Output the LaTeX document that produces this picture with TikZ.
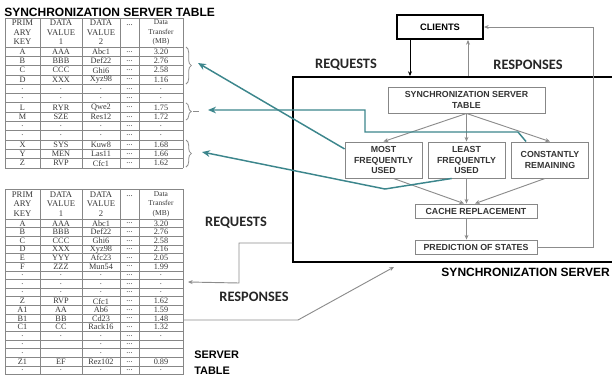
\documentclass[tikz,border=0pt]{standalone}
\usepackage{fontspec}
\setmainfont{Liberation Serif}
\setsansfont{Liberation Sans}
\newfontfamily\carlito{Carlito}
\usepackage{xcolor}
\usetikzlibrary{arrows.meta,calc,decorations.pathreplacing}

\definecolor{tealline}{RGB}{60,134,140}
\definecolor{gridline}{RGB}{135,135,135}
\definecolor{celltext}{RGB}{55,55,55}
\definecolor{flowline}{RGB}{140,140,140}

\tikzset{
  tablegrid/.style={draw=gridline, line width=0.6pt},
  cell/.style={inner sep=0pt, text=celltext, font=\fontsize{6.2}{6.2}\selectfont},
  headcell/.style={inner sep=0pt, text=celltext, align=center, font=\fontsize{6.5}{7.2}\selectfont},
  mbcell/.style={inner sep=0pt, text=celltext, align=center, font=\fontsize{5.6}{7.2}\selectfont},
  caption/.style={inner sep=0.75pt, align=left, font=\sffamily\bfseries\fontsize{9}{12}\selectfont},
  flowlabel/.style={inner sep=0.75pt, text=black!85, font=\carlito\bfseries\fontsize{10.8}{12}\selectfont},
  statebox/.style={draw=gridline, line width=0.7pt, align=center, inner sep=0pt, text=black!80, font=\sffamily\bfseries\fontsize{6.6}{7.8}\selectfont},
  thickbox/.style={draw=black, line width=1.5pt, inner sep=0pt},
  flow/.style={draw=flowline, line width=0.7pt, -{Stealth[length=3.5pt,width=3pt]}},
  pointer/.style={draw=tealline, line width=1.1pt, -{Stealth[length=6pt,width=5pt]}},
  rowbrace/.style={draw=flowline, line width=0.6pt, decorate, decoration={brace,amplitude=4pt}},
}

\begin{document}
\begin{tikzpicture}[x=0.75pt,y=0.75pt,yscale=-1,xscale=1]
\useasboundingbox (0,0) rectangle (612,376);

% Text Node
\node[caption, anchor=west] (sttitle) at (3,12) {SYNCHRONIZATION SERVER TABLE};

%Shape: Table (synchronization server table)
\foreach \xc in {5,40,82,120,139,183} \draw[tablegrid] (\xc,18) -- (\xc,168);
\draw[tablegrid] (5,18) -- (183,18);
\foreach \r in {0,...,13} \draw[tablegrid] (5,47+\r*9.3) -- (183,47+\r*9.3);
\node[headcell] (sthead1) at (22.5,32.5) {PRIM\\ARY\\KEY};
\node[headcell] (sthead2) at (61,32.5) {DATA\\VALUE\\1};
\node[headcell] (sthead3) at (101,32.5) {DATA\\VALUE\\2};
\node[headcell] (sthead4) at (129.5,25.5) {...};
\node[mbcell] (sthead5) at (161,32.5) {Data\\Transfer\\(MB)};
\foreach \pk/\dva/\dvb/\mb [count=\r] in {A/AAA/Abc1/3.20, B/BBB/Def22/2.76, C/CCC/Ghi6/2.58, D/XXX/Xyz98/1.16, ./././., ./././., L/RYR/Qwe2/1.75, M/SZE/Res12/1.72, ./././., ./././., X/SYS/Kuw8/1.68, Y/MEN/Las11/1.66, Z/RVP/Cfc1/1.62}{
  \node[cell] (st-\r-1) at (22.5,42.35+\r*9.3) {\pk};
  \node[cell] (st-\r-2) at (61,42.35+\r*9.3) {\dva};
  \node[cell] (st-\r-3) at (101,42.35+\r*9.3) {\dvb};
  \node[cell] (st-\r-4) at (129.5,42.35+\r*9.3) {...};
  \node[cell] (st-\r-5) at (161,42.35+\r*9.3) {\mb};
}

%Shape: Braces
\draw[rowbrace] (186,47) -- (186,84);
\draw[rowbrace] (186,103) -- (186,120);
\draw[rowbrace] (186,140) -- (186,167);
\draw[draw=flowline, line width=0.6pt] (193,111.5) -- (199,111.5);
\coordinate (toptip) at (198,63);
\coordinate (midtip) at (208,110);
\coordinate (lowtip) at (202,152);

%Shape: Table (server table)
\foreach \xc in {5,40,82,120,139,183} \draw[tablegrid] (\xc,189) -- (\xc,374.7);
\draw[tablegrid] (5,189) -- (183,189);
\foreach \r in {0,...,18} \draw[tablegrid] (5,219+\r*8.65) -- (183,219+\r*8.65);
\node[headcell] (svhead1) at (22.5,204) {PRIM\\ARY\\KEY};
\node[headcell] (svhead2) at (61,204) {DATA\\VALUE\\1};
\node[headcell] (svhead3) at (101,204) {DATA\\VALUE\\2};
\node[headcell] (svhead4) at (129.5,196.5) {...};
\node[mbcell] (svhead5) at (161,204) {Data\\Transfer\\(MB)};
\foreach \pk/\dva/\dvb/\mb [count=\r] in {A/AAA/Abc1/3.20, B/BBB/Def22/2.76, C/CCC/Ghi6/2.58, D/XXX/Xyz98/2.16, E/YYY/Afc23/2.05, F/ZZZ/Mun54/1.99, ./././., ./././., ./././., Z/RVP/Cfc1/1.62, A1/AA/Ab6/1.59, B1/BB/Cd23/1.48, C1/CC/Rack16/1.32, ./././., ./{}/./{}, ./{}/./{}, Z1/EF/Rez102/0.89, ./././.}{
  \node[cell] (sv-\r-1) at (22.5,214.675+\r*8.65) {\pk};
  \node[cell] (sv-\r-2) at (61,214.675+\r*8.65) {\dva};
  \node[cell] (sv-\r-3) at (101,214.675+\r*8.65) {\dvb};
  \node[cell] (sv-\r-4) at (129.5,214.675+\r*8.65) {...};
  \node[cell] (sv-\r-5) at (161,214.675+\r*8.65) {\mb};
}
\coordinate (reqtip) at (188,282);
\coordinate (respin) at (183,320);

%Shape: Synchronization server
\node[thickbox, minimum width=242.25pt, minimum height=138.75pt] (server) at (454.5,169.5) {};
\node[thickbox, minimum width=64.5pt, minimum height=18pt, font=\sffamily\bfseries\fontsize{7}{8}\selectfont] (clients) at (440,27) {CLIENTS};
\node[statebox, minimum width=117.75pt, minimum height=19.5pt] (sst) at (466.5,100) {SYNCHRONIZATION SERVER\\TABLE};
\node[statebox, minimum width=57.75pt, minimum height=27pt] (mfu) at (383.5,160) {MOST\\FREQUENTLY\\USED};
\node[statebox, minimum width=57.75pt, minimum height=27pt] (lfu) at (466.5,160) {LEAST\\FREQUENTLY\\USED};
\node[statebox, minimum width=57.75pt, minimum height=27pt] (cr) at (550,160) {CONSTANTLY\\REMAINING};
\node[statebox, minimum width=91.5pt, minimum height=10.5pt] (cache) at (476,211) {CACHE REPLACEMENT};
\node[statebox, minimum width=91.5pt, minimum height=10.5pt] (pred) at (476,247) {PREDICTION OF STATES};

% Text Node
\node[flowlabel] (req1) at (346,65) {REQUESTS};
\node[flowlabel] (resp1) at (528,65) {RESPONSES};
\node[flowlabel] (req2) at (236,223) {REQUESTS};
\node[flowlabel] (resp2) at (254,297) {RESPONSES};
\node[caption, anchor=east] (servercap) at (611,272) {SYNCHRONIZATION SERVER};
\node[caption, anchor=west, font=\sffamily\bfseries\fontsize{8.2}{12}\selectfont] (stcap) at (193,363) {SERVER\\TABLE};

%Connectors: clients
\coordinate (reqdown) at ($(clients.south west)+(14,0)$);
\coordinate (respup) at ($(clients.south east)+(-16,0)$);
\draw[line width=0.7pt, -{Stealth[length=3.5pt,width=3pt]}] (reqdown) -- (reqdown |- server.north);
\draw[flow] (respup |- server.north) -- (respup);
\draw[flow] (pred.east) -- ++(56,0) |- (clients.east);

%Connectors: inside server
\draw[flow] (sst.south) -- (mfu.north);
\draw[flow] (sst.south) -- (lfu.north);
\draw[flow] (sst.south) -- (cr.north);
\draw[flow] ($(mfu.south)+(10,0)$) -- ($(cache.north)+(-12,0)$);
\draw[flow] (lfu.south) -- (lfu.south |- cache.north);
\draw[flow] ($(cr.south)+(-5,0)$) -- ($(cache.north)+(-1,0)$);
\draw[flow] (lfu.south |- cache.south) -- (lfu.south |- pred.north);

%Connectors: server table
\coordinate (reqout) at ($(server.south west)+(0,-20)$);
\draw[flow] (reqout) -- ++(-53,0) -- ++(0,40) -- (reqtip);
\draw[flow] (respin) -- (298,320) -- ($(server.south west)+(102,4)$);

%Connectors: teal pointers
\draw[pointer] ($(mfu.north west)!0.2!(mfu.south west)$) -- (toptip);
\draw[pointer] ($(cr.north west)+(15,0)$) -- (518,132) -| (365,110) -- (midtip);
\draw[pointer] ($(lfu.south west)!0.31!(lfu.south east)$) -- (385,189) -- (lowtip);

\end{tikzpicture}
\end{document}
